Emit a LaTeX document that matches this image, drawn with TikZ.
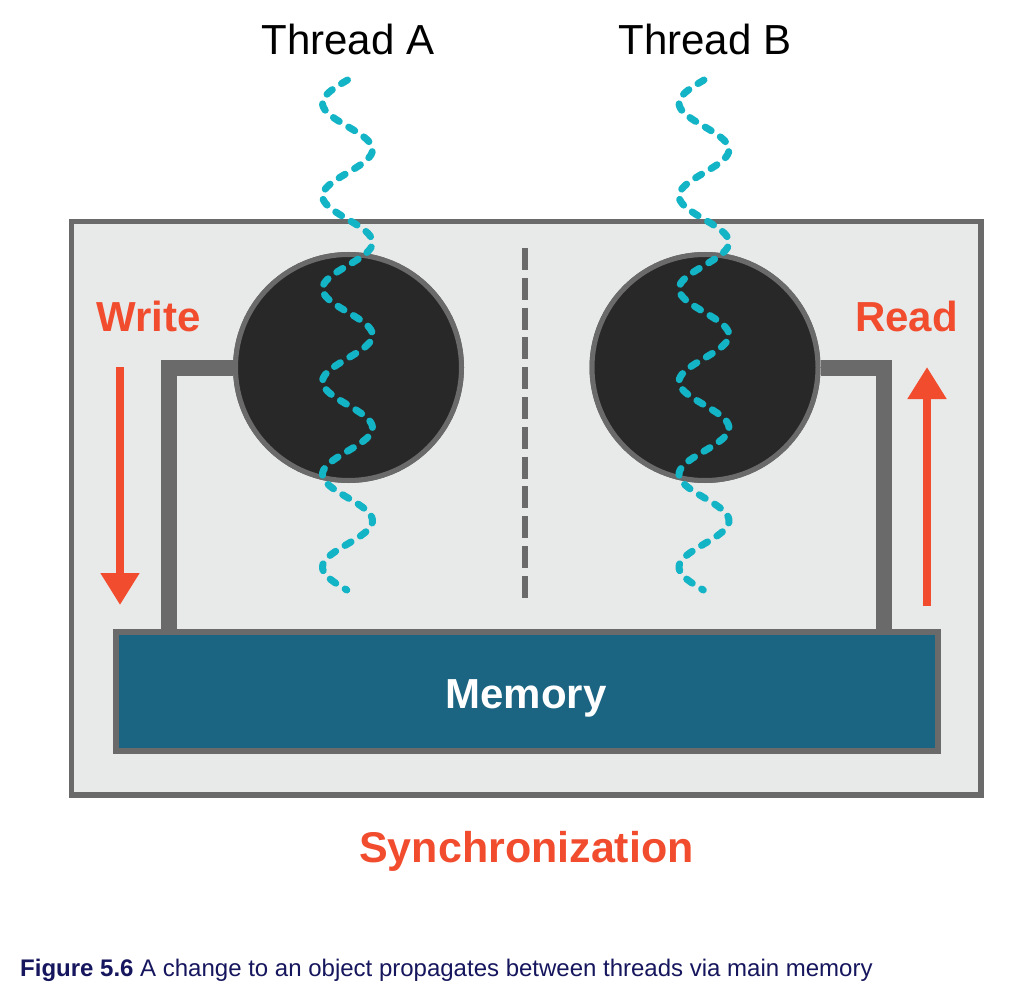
\documentclass[tikz,border=0pt]{standalone}
\usepackage{fontspec}
\setmainfont{Liberation Sans}
\usetikzlibrary{arrows.meta}
\definecolor{boxfill}{HTML}{E8E9E9}
\definecolor{edge}{HTML}{6A6A6A}
\definecolor{core}{HTML}{282828}
\definecolor{memfill}{HTML}{1B6482}
\definecolor{hot}{HTML}{F24C2E}
\definecolor{wire}{HTML}{13B4C5}
\definecolor{navy}{HTML}{16165E}
\begin{document}
\begin{tikzpicture}[x=1pt,y=-1pt,
 frame/.style={draw=edge,fill=boxfill,line width=5.5pt,minimum width=909.5pt,minimum height=573.5pt,inner sep=0pt},
 corebox/.style={circle,draw=edge,fill=core,line width=5pt,minimum size=226pt,inner sep=0pt},
 membox/.style={draw=edge,fill=memfill,line width=6pt,minimum width=822pt,minimum height=119pt,inner sep=0pt},
 link/.style={draw=edge,line width=16pt,line join=miter},
 flow/.style={draw=hot,line width=8pt,-{Triangle[width=37pt,length=32pt]}},
 wave/.style={draw=wire,line width=7pt,line cap=round,dash pattern=on 7pt off 11pt},
 divider/.style={draw=edge,line width=6pt,dash pattern=on 22pt off 7.8pt},
 title/.style={font=\fontsize{42}{50}\selectfont,anchor=base,inner sep=0pt},
 tag/.style={font=\bfseries\fontsize{42}{50}\selectfont,text=hot,anchor=base,inner sep=0pt},
]
\useasboundingbox (0,0) rectangle (1025,992);
\fill[white] (0,0) rectangle (1025,992);
% outer frame
\node[frame] (box) at (526.25,508.25) {};
% connectors
\coordinate (linkA) at (169,632);
\coordinate (linkB) at (883.5,632);
\node[corebox] (coreA) at (348.5,367.5) {};
\node[corebox] (coreB) at (705,367.5) {};
\draw[link] (coreA.west) -| (linkA);
\draw[link] (coreB.east) -| (linkB);
\node[corebox] at (coreA) {};
\node[corebox] at (coreB) {};
% memory
\node[membox] (mem) at (526.5,691.5) {};
\node[anchor=base,inner sep=0pt,text=white,font=\bfseries\fontsize{42}{50}\selectfont] (memlabel) at (526,708) {Memory};
% divider
\coordinate (dtop) at (525,248);
\coordinate (dbot) at (525,605);
\draw[divider] (dtop) -- (dbot);
% arrows
\coordinate (wtop) at (120,367);
\coordinate (wtip) at (120,605);
\draw[flow] (wtop) -- (wtip);
\coordinate (rbot) at (927,606);
\coordinate (rtip) at (927,367);
\draw[flow] (rbot) -- (rtip);
% threads
\draw[wave] plot[domain=0:510,samples=240,smooth] ({347.5-25*sin(3.8793*\x)},{80+\x});
\draw[wave] plot[domain=0:510,samples=240,smooth] ({704-25*sin(3.8793*\x)},{80+\x});
% labels
\node[title] (tA) at (348,55) {Thread A};
\node[title] (tB) at (705,55) {Thread B};
\node[tag] (write) at (148.5,331) {Write};
\node[tag] (read) at (906.5,331) {Read};
\node[tag,font=\bfseries\fontsize{43}{50}\selectfont] (sync) at (526.5,862) {Synchronization};
\node[anchor=base west,inner sep=0pt,text=navy,font=\fontsize{24}{28}\selectfont] (caption) at (20,976) {\textbf{Figure 5.6} A change to an object propagates between threads via main memory};
\end{tikzpicture}
\end{document}
